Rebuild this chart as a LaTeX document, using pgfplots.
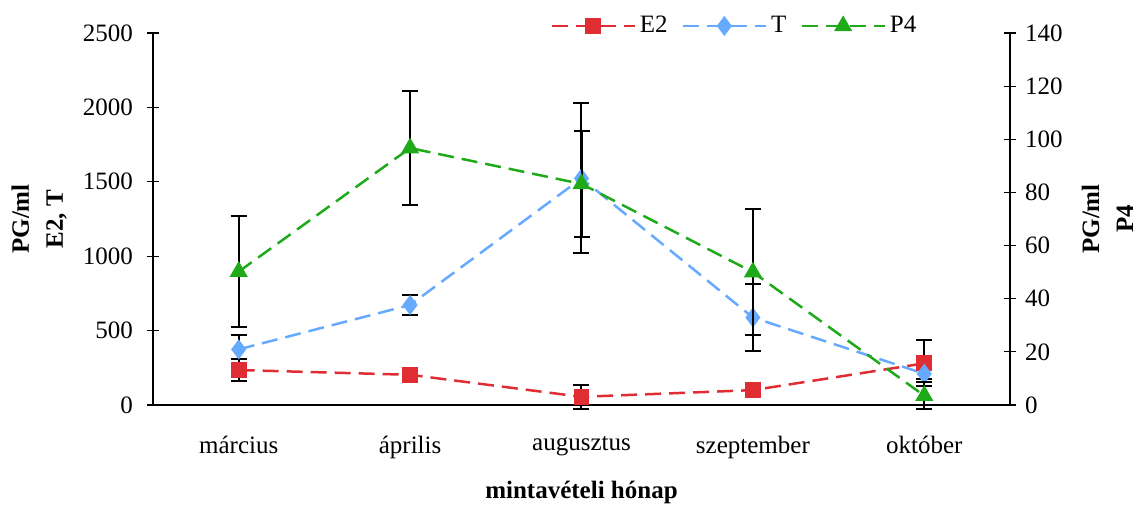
\documentclass[border=0pt]{standalone}
\usepackage{fontspec}
\setmainfont{Liberation Serif}
\usepackage{pgfplots}
\pgfplotsset{compat=1.18}
\usepackage{pgfplotstable}

\definecolor{eRed}{RGB}{224,45,52}
\definecolor{tBlue}{RGB}{102,170,255}
\definecolor{pGreen}{RGB}{30,170,25}

% monthly means with their standard deviations
\pgfplotstableread{
x y e
0 235 74
1 203 39
2 55 80
3 100 48
4 280 155
}\etwo
\pgfplotstableread{
x y e
0 374 94
1 672 67
2 1523 504
3 588 222
4 210 33
}\ttest
\pgfplotstableread{
x y e
0 50.2 21
1 96.7 21.5
2 83.2 19.8
3 50.0 23.7
4 3.5 5
}\pfour

\newcommand\lblfont{\rmfamily\fontsize{12.5}{15}\selectfont}

\pgfplotsset{
  common/.style={
    width=428.5pt, height=186pt, scale only axis,
    xmin=-0.5, xmax=4.5,
    /pgf/number format/assume math mode=true,
    /pgf/number format/set thousands separator={},
    tick label style={font=\lblfont},
    yticklabel={\pgfmathtruncatemacro\tk{round(\tick)}\tk},
    axis line style={line width=0.6pt, black},
    every tick/.style={black, line width=0.6pt},
    tick align=center,
    major tick length=6pt,
    clip=false,
  },
  err/.style={error bars/.cd, y dir=both, y explicit,
    error bar style={black, line width=1pt, solid},
    error mark options={rotate=90, mark size=4pt, black, line width=1pt, solid},
    /pgfplots/.cd},
  series/.style={color=#1, line width=1.25pt, dash pattern=on 8pt off 4pt,
    mark options={solid, fill=#1, draw=#1}},
}

\begin{document}
\begin{tikzpicture}
\begin{axis}[common, name=ax,
  axis y line*=left, axis x line*=bottom,
  ymin=0, ymax=2500, ytick={0,500,...,2500},
  yticklabel style={xshift=-3.5pt},
  xtick={0,1,2,3,4},
  xticklabels={március,április,augusztus,szeptember,október},
  xticklabel style={yshift=-9pt},
  major x tick style={draw=none},
  extra x ticks={0.5,1.5,2.5,3.5},
  extra x tick labels={},
  extra x tick style={major tick length=6pt, tick style={black, line width=0.6pt}},
  every axis y label/.style={at={(rel axis cs:-0.133,0.5)}, rotate=90, anchor=center, align=center,
    font=\bfseries\fontsize{12.5}{17}\selectfont},
  ylabel={PG/ml\\E2, T},
  every axis x label/.style={at={(rel axis cs:0.5,-0.236)}, anchor=center,
    font=\bfseries\fontsize{12.5}{15}\selectfont},
  xlabel={mintavételi hónap},
]
\addplot[series=eRed, mark=square*, mark size=3.3pt, err] table[x=x, y=y, y error=e] {\etwo};
\addplot[series=tBlue, mark=diamond*, mark size=4pt, err] table[x=x, y=y, y error=e] {\ttest};
\end{axis}
\begin{axis}[common,
  axis y line*=right, axis x line=none,
  ymin=0, ymax=140, ytick={0,20,...,140},
  yticklabel style={xshift=1pt},
  every axis y label/.style={at={(rel axis cs:1.1138,0.5)}, rotate=90, anchor=center, align=center,
    font=\bfseries\fontsize{12.5}{17}\selectfont},
  ylabel={PG/ml\\P4},
  legend style={at={(rel axis cs:0.4632,1.019)}, anchor=west, draw=none, fill=none,
    font=\lblfont, legend columns=3, inner sep=0pt,
    /tikz/every even column/.append style={column sep=5pt}},
  legend image code/.code={\draw[#1, mark repeat=2, mark phase=2]
    plot coordinates {(0pt,0pt) (20.75pt,0pt) (41.5pt,0pt)};},
]
\addlegendimage{series=eRed, mark=square*, mark size=3.3pt}
\addlegendentry{E2}
\addlegendimage{series=tBlue, mark=diamond*, mark size=4pt}
\addlegendentry{T}
\addlegendimage{series=pGreen, mark=triangle*, mark size=4pt}
\addlegendentry{P4}
\addplot[series=pGreen, mark=triangle*, mark size=4pt, forget plot, err] table[x=x, y=y, y error=e] {\pfour};
\end{axis}
\pgfresetboundingbox
\useasboundingbox ([shift={(-76.5pt,-49.5pt)}]ax.south west) rectangle ([shift={(63pt,16.5pt)}]ax.north east);
\end{tikzpicture}
\end{document}
